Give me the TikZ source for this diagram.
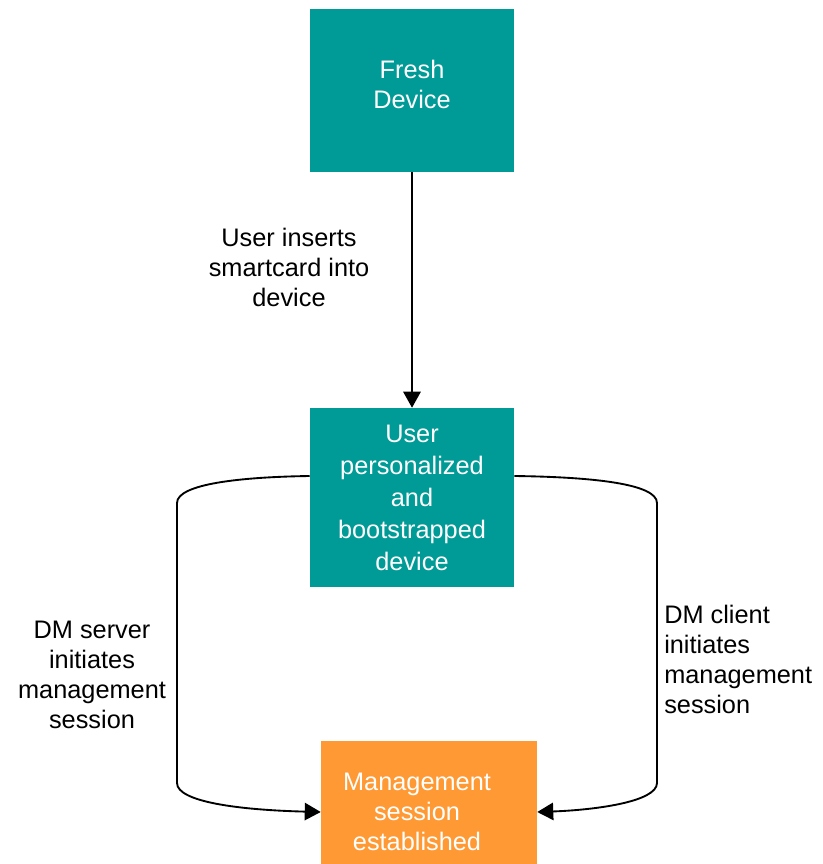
\documentclass[tikz,border=0pt]{standalone}
\usepackage{fontspec}
\setmainfont{Liberation Sans}
\usetikzlibrary{arrows.meta}
\definecolor{teal1}{HTML}{009B96}
\definecolor{orange1}{HTML}{FF9933}
\begin{document}
\begin{tikzpicture}[x=0.75pt,y=-0.75pt,
  box/.style={fill=#1,draw=none,inner sep=0pt,text=white,align=center,font=\fontsize{19}{22.5}\selectfont},
  lbl/.style={align=center,font=\fontsize{19}{22.5}\selectfont,inner sep=0pt},
  conn/.style={line width=1.4pt,-{Triangle[length=12pt,width=13pt]}}]
\useasboundingbox (0,0) rectangle (822,864);
\node[box=teal1,minimum width=153pt,minimum height=122.25pt] (fresh) at (412,90.5) {};
\node[lbl,text=white] (freshm) at (412,84) {Fresh\\Device};
\node[box=teal1,minimum width=153pt,minimum height=134.25pt,font=\fontsize{19}{24}\selectfont] (user) at (412,497.5) {User\\personalized\\and\\bootstrapped\\device};
\node[box=orange1,minimum width=162pt,minimum height=96pt] (mgmt) at (429,805) {};
\node[lbl,text=white] (mgmtt) at (417,812) {Management\\session\\established};
\draw[conn] (fresh) -- (user);
\node[lbl] (l1) at (289,267) {User inserts\\smartcard into\\device};
\coordinate (lc1) at (177,503);
\coordinate (lc2) at (177,783);
\coordinate (rc1) at (657,503);
\coordinate (rc2) at (657,783);
\draw[conn] (user.west |- 0,476) .. controls (240,477) and (177,484) .. (lc1) -- (lc2) .. controls (177,802) and (240,810) .. (mgmt.west |- 0,812);
\draw[conn] (user.east |- 0,476) .. controls (594,477) and (657,484) .. (rc1) -- (rc2) .. controls (657,802) and (594,810) .. (mgmt.east |- 0,812);
\node[lbl] (l2) at (92,675) {DM server\\initiates\\management\\session};
\node[lbl,align=left,anchor=west] (l3) at (664,659) {DM client\\initiates\\management\\session};
\end{tikzpicture}
\end{document}
